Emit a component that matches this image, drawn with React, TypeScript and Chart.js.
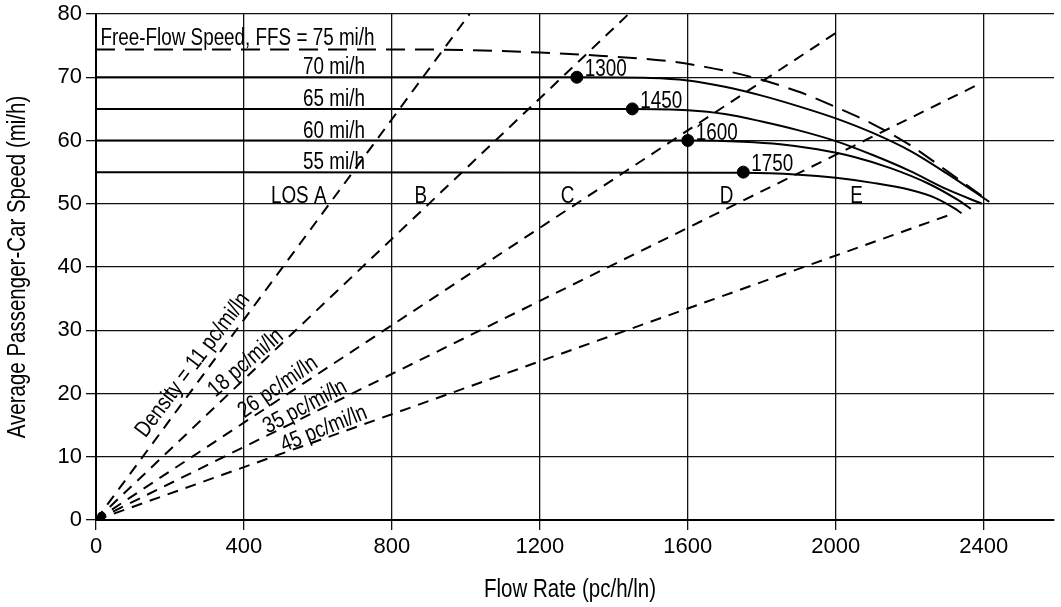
import React, { useEffect, useRef } from "react";
import { Chart, registerables } from "chart.js";

Chart.register(...registerables);

const FONT = '"Liberation Sans", Arial, Helvetica, sans-serif';
const NARROW = 0.82;

// ---- axis values ----
const flowMin = 0;
const flowMax = 2590;
const speedMin = 0;
const speedMax = 80;
const flowStep = 400;
const speedStep = 10;

// ---- speed-flow curves (flow pc/h/ln, speed mi/h) ----
const ffs75Flow = [0, 770, 1000, 1200, 1360, 1540, 1650, 1755, 1900, 2000, 2100, 2200, 2300, 2415];
const ffs75Speed = [74.4, 74.4, 74.3, 73.9, 73.4, 72.6, 71.6, 70.3, 67.7, 65.3, 62.6, 59.3, 55.2, 50.4];

const ffs70Flow = [0, 1300, 1500, 1600, 1700, 1800, 1900, 2000, 2100, 2200, 2300, 2415];
const ffs70Speed = [70, 70, 69.9, 69.5, 68.5, 67.1, 65.4, 63.5, 61.2, 58.4, 54.8, 50.3];

const ffs65Flow = [0, 1450, 1600, 1700, 1800, 1900, 2000, 2100, 2200, 2300, 2395];
const ffs65Speed = [65, 65, 64.8, 64.2, 63.0, 61.6, 59.9, 57.7, 55.2, 52.3, 50.0];

const ffs60Flow = [0, 1600, 1750, 1850, 1950, 2050, 2150, 2250, 2330, 2365];
const ffs60Speed = [60, 60, 59.8, 59.4, 58.6, 57.4, 55.6, 53.2, 50.6, 49.2];

const ffs55Flow = [0, 1750, 1900, 2000, 2100, 2200, 2270, 2320, 2340];
const ffs55Speed = [55, 54.9, 54.6, 54.1, 53.3, 52.2, 50.9, 49.3, 48.5];

// ---- breakpoints ----
const breakpointFlow = [1300, 1450, 1600, 1750];
const breakpointSpeed = [70, 65, 60, 55];
const breakpointLabels = ["1300", "1450", "1600", "1750"];

// ---- density lines (from origin to end point) ----
const densityEndFlow = [1010, 1440, 2000, 2390, 2320];
const densityEndSpeed = [80, 80, 77, 69, 48.5];
const densityLabels = [
  "Density = 11 pc/mi/ln",
  "18 pc/mi/ln",
  "26 pc/mi/ln",
  "35 pc/mi/ln",
  "45 pc/mi/ln",
];

// ---- text labels ----
const ffsTitle = "Free-Flow Speed, FFS = 75 mi/h";
const speedLabels = ["70 mi/h", "65 mi/h", "60 mi/h", "55 mi/h"];
const speedLabelValues = [70, 65, 60, 55];
const losLabels = ["LOS A", "B", "C", "D", "E"];
const losLabelFlow = [548, 878, 1275, 1705, 2056];
const losLabelSpeed = 50;

const xTitle = "Flow Rate (pc/h/ln)";
const yTitle = "Average Passenger-Car Speed (mi/h)";

// label anchors (data coordinates) and rotation for density labels
const densityLabelAnchor = [
  { flow: 262, speed: 24.5, angle: 53 },
  { flow: 405, speed: 24.8, angle: 41 },
  { flow: 492, speed: 21.0, angle: 35 },
  { flow: 565, speed: 17.9, angle: 28 },
  { flow: 616, speed: 14.4, angle: 22 },
];

const toPts = (xs: number[], ys: number[]) => xs.map((v, i) => ({ x: v, y: ys[i] }));

function narrowText(
  ctx: CanvasRenderingContext2D,
  text: string,
  px: number,
  py: number,
  align: CanvasTextAlign,
  baseline: CanvasTextBaseline,
  angleDeg = 0,
  size = 23
) {
  ctx.save();
  ctx.translate(px, py);
  if (angleDeg) ctx.rotate((angleDeg * Math.PI) / 180);
  ctx.scale(NARROW, 1);
  ctx.font = `${size}px ${FONT}`;
  ctx.textAlign = align;
  ctx.textBaseline = baseline;
  ctx.fillStyle = "#000";
  ctx.fillText(text, 0, 0);
  ctx.restore();
}

const annotationPlugin = {
  id: "hcmAnnotations",
  afterDatasetsDraw(chart: any) {
    const { ctx, chartArea } = chart;
    const x = chart.scales.x;
    const y = chart.scales.y;

    narrowText(ctx, ffsTitle, x.getPixelForValue(12), y.getPixelForValue(74.4) - 4, "left", "alphabetic");

    speedLabels.forEach((t, i) => {
      narrowText(ctx, t, x.getPixelForValue(727), y.getPixelForValue(speedLabelValues[i]) - 3, "right", "alphabetic");
    });

    losLabels.forEach((t, i) => {
      narrowText(ctx, t, x.getPixelForValue(losLabelFlow[i]), y.getPixelForValue(losLabelSpeed) - 1, "center", "alphabetic");
    });

    breakpointLabels.forEach((t, i) => {
      narrowText(ctx, t, x.getPixelForValue(breakpointFlow[i]) + 8, y.getPixelForValue(breakpointSpeed[i]) - 1, "left", "alphabetic");
    });

    densityLabels.forEach((t, i) => {
      const a = densityLabelAnchor[i];
      narrowText(ctx, t, x.getPixelForValue(a.flow), y.getPixelForValue(a.speed), "center", "middle", -a.angle);
    });

    // axis titles
    narrowText(ctx, xTitle, 570, 590, "center", "middle", 0, 25);
    narrowText(ctx, yTitle, 18, (chartArea.top + chartArea.bottom) / 2, "center", "middle", -90, 25);
  },
};

export default function App() {
  const canvasRef = useRef<HTMLCanvasElement | null>(null);

  useEffect(() => {
    if (!canvasRef.current) return;
    const solid = (data: any[]) => ({
      data,
      showLine: true,
      borderColor: "#000",
      borderWidth: 2,
      pointRadius: 0,
      cubicInterpolationMode: "monotone" as const,
      fill: false,
    });
    const densityDatasets = densityEndFlow.map((f, i) => ({
      data: [
        { x: 0, y: 0 },
        { x: f, y: densityEndSpeed[i] },
      ],
      showLine: true,
      borderColor: "#000",
      borderWidth: 2,
      borderDash: [11, 8],
      pointRadius: 0,
      fill: false,
    }));

    const chart = new Chart(canvasRef.current, {
      type: "scatter",
      data: {
        datasets: [
          { ...solid(toPts(ffs75Flow, ffs75Speed)), borderDash: [19, 10] },
          solid(toPts(ffs70Flow, ffs70Speed)),
          solid(toPts(ffs65Flow, ffs65Speed)),
          solid(toPts(ffs60Flow, ffs60Speed)),
          solid(toPts(ffs55Flow, ffs55Speed)),
          ...densityDatasets,
          {
            data: toPts(breakpointFlow, breakpointSpeed),
            showLine: false,
            pointRadius: 6,
            pointBackgroundColor: "#000",
            pointBorderColor: "#000",
          },
          {
            data: [{ x: 15, y: 0.6 }],
            showLine: false,
            pointRadius: 4,
            pointBackgroundColor: "#000",
            pointBorderColor: "#000",
          },
        ],
      },
      options: {
        animation: false,
        responsive: false,
        events: [],
        layout: { padding: { top: 14, left: 0, right: 0, bottom: 0 } },
        plugins: {
          legend: { display: false },
          tooltip: { enabled: false },
          title: { display: false },
        },
        scales: {
          x: {
            type: "linear",
            min: flowMin,
            max: flowMax,
            afterFit: (s: any) => {
              s.height = 87;
              s.paddingLeft = 0;
              s.paddingRight = 0;
            },
            ticks: {
              stepSize: flowStep,
              includeBounds: false,
              color: "#000",
              padding: 4,
              maxRotation: 0,
              font: { family: FONT, size: 22 },
              callback: (v: any) => String(v),
            },
            grid: { color: "#111", lineWidth: 1.3, tickLength: 10, drawTicks: true },
            border: { color: "#000", width: 2 },
            title: { display: false },
          },
          y: {
            type: "linear",
            min: speedMin,
            max: speedMax,
            afterFit: (s: any) => {
              s.width = 96;
              s.paddingTop = 0;
              s.paddingBottom = 0;
            },
            ticks: {
              stepSize: speedStep,
              color: "#000",
              padding: 4,
              font: { family: FONT, size: 22 },
              callback: (v: any) => String(v),
            },
            grid: { color: "#111", lineWidth: 1.3, tickLength: 10, drawTicks: true },
            border: { color: "#000", width: 2 },
            title: { display: false },
          },
        },
      },
      plugins: [annotationPlugin],
    } as any);

    return () => chart.destroy();
  }, []);

  return (
    <div style={{ position: "fixed", left: 0, top: 0, width: 1061, height: 607, background: "#fff" }}>
      <canvas ref={canvasRef} width={1061} height={607} style={{ display: "block" }} />
    </div>
  );
}
